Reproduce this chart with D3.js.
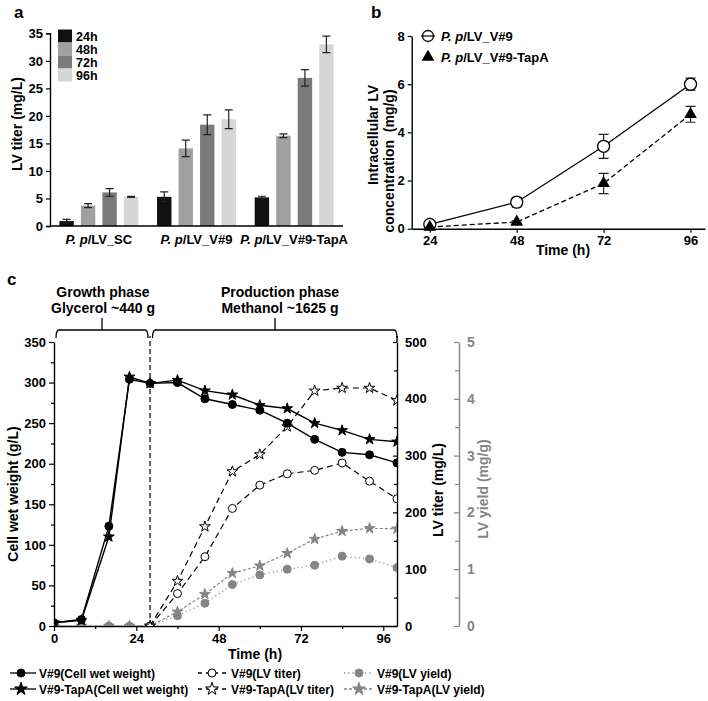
<!DOCTYPE html>
<html><head><meta charset="utf-8">
<script src="https://cdn.jsdelivr.net/npm/d3@7"></script>
<style>
body{margin:0;background:#fff;}
svg text{font-family:"Liberation Sans",Arial,Helvetica,sans-serif;font-weight:bold;}
</style></head>
<body>
<svg id="chart" width="708" height="701"></svg>
<script>
// ---------- Panel a data ----------
const groupsA = ["SC", "V#9", "V#9-TapA"];
const groupLabelsA = ["/LV_SC", "/LV_V#9", "/LV_V#9-TapA"];
const timesA = ["24h", "48h", "72h", "96h"];
const titerSC = [0.9, 3.7, 6.1, 5.3];
const errSC = [0.3, 0.35, 0.7, 0.1];
const titerV9 = [5.3, 14.1, 18.4, 19.4];
const errV9 = [0.9, 1.5, 1.8, 1.7];
const titerTapA = [5.2, 16.4, 26.9, 33.0];
const errTapA = [0.2, 0.35, 1.5, 1.5];
const colorsA = ["#111111", "#a0a0a0", "#7a7a7a", "#d6d6d6"];
const yTicksA = [0, 5, 10, 15, 20, 25, 30, 35];

// ---------- Panel b data ----------
const timeB = [24, 48, 72, 96];
const intraV9 = [0.18, 1.1, 3.42, 6.0];
const errIntraV9 = [0.1, 0.2, 0.5, 0.25];
const intraTapA = [0.07, 0.28, 1.88, 4.75];
const errIntraTapA = [0.04, 0.05, 0.42, 0.33];
const yTicksB = [0, 2, 4, 6, 8];

// ---------- Panel c data ----------
const timeCWW = [0, 8, 16, 22, 28, 36, 44, 52, 60, 68, 76, 84, 92, 100];
const cwwV9 = [4, 8, 123, 304, 299, 300, 280, 273, 266, 250, 230, 214, 211, 201];
const cwwTapA = [4, 7, 110, 307, 299, 303, 290, 285, 272, 268, 250, 241, 230, 227];
const timeTiter = [28, 36, 44, 52, 60, 68, 76, 84, 92, 100];
const titerV9c = [0, 57, 122, 207, 248, 268, 274, 287, 255, 224];
const titerTapAc = [0, 79, 175, 272, 302, 351, 414, 419, 419, 397];
const timeYield = [0, 8, 16, 22, 28, 36, 44, 52, 60, 68, 76, 84, 92, 100];
const yieldV9 = [0, 0, 0, 0, 0, 0.18, 0.40, 0.73, 0.90, 1.0, 1.07, 1.23, 1.18, 1.03];
const yieldTapA = [0, 0, 0, 0, 0, 0.25, 0.56, 0.93, 1.06, 1.28, 1.53, 1.67, 1.72, 1.71];
const xTicksC = [0, 24, 48, 72, 96];
const legendC = [
  ["V#9(Cell wet weight)", "V#9(LV titer)", "V#9(LV yield)"],
  ["V#9-TapA(Cell wet weight)", "V#9-TapA(LV titer)", "V#9-TapA(LV yield)"]
];

const svg = d3.select("#chart");
const GRAY = "#858585";

function panelLabel(t, x, y) {
  svg.append("text").attr("x", x).attr("y", y).attr("font-size", 17).text(t);
}

// ================= Panel a =================
(function () {
  panelLabel("a", 14, 18);
  const x = d3.scaleBand().domain(groupsA).range([50, 343]);
  const xs = d3.scaleBand().domain(timesA).range([-43, 43]).paddingInner(0.33).paddingOuter(0.165);
  const y = d3.scaleLinear().domain([0, 35]).range([226, 33.3]);
  const g = svg.append("g");
  const series = [titerSC, titerV9, titerTapA];
  const errs = [errSC, errV9, errTapA];
  groupsA.forEach((grp, gi) => {
    timesA.forEach((t, ti) => {
      const cx = x(grp) + x.bandwidth() / 2 + xs(t);
      const v = series[gi][ti], e = errs[gi][ti];
      g.append("rect").attr("x", cx).attr("width", xs.bandwidth())
        .attr("y", y(v)).attr("height", y(0) - y(v)).attr("fill", colorsA[ti]);
      const mx = cx + xs.bandwidth() / 2;
      g.append("path").attr("d",
        `M${mx},${y(v - e)}V${y(v + e)}M${mx - 4},${y(v + e)}H${mx + 4}M${mx - 4},${y(v - e)}H${mx + 4}`)
        .attr("stroke", "#222").attr("stroke-width", 1.2).attr("fill", "none");
    });
  });
  const ya = g.append("g").attr("transform", "translate(50,0)")
    .call(d3.axisLeft(y).tickValues(yTicksA).tickSize(4).tickPadding(3));
  ya.select(".domain").attr("stroke-width", 1.4);
  ya.selectAll(".tick line").attr("stroke-width", 1.2);
  ya.selectAll("text").attr("font-size", 13).attr("font-family", "Liberation Sans, Arial").attr("font-weight", "bold");
  g.append("line").attr("x1", 50).attr("x2", 343).attr("y1", 226).attr("y2", 226).attr("stroke", "#000").attr("stroke-width", 1.4);
  groupsA.forEach((grp, gi) => {
    const tx = g.append("text").attr("x", x(grp) + x.bandwidth() / 2).attr("y", 244)
      .attr("text-anchor", "middle").attr("font-size", 13);
    tx.append("tspan").attr("font-style", "italic").text("P. p");
    tx.append("tspan").text(groupLabelsA[gi]);
  });
  g.append("text").attr("transform", "translate(22,124) rotate(-90)").attr("text-anchor", "middle")
    .attr("font-size", 14).text("LV titer (mg/L)");
  // legend
  timesA.forEach((t, i) => {
    const cy = 36 + i * 13;
    g.append("rect").attr("x", 58).attr("y", cy - 6.5).attr("width", 14).attr("height", 13).attr("fill", colorsA[i]);
    g.append("text").attr("x", 76).attr("y", cy + 4.5).attr("font-size", 12.5).text(t);
  });
})();

// ================= Panel b =================
(function () {
  panelLabel("b", 371, 18);
  const x = d3.scaleLinear().domain([19, 100]).range([411.7, 705]);
  const y = d3.scaleLinear().domain([0, 8]).range([228.7, 36]);
  const g = svg.append("g");
  const xa = g.append("g").attr("transform", "translate(0,228.7)")
    .call(d3.axisBottom(x).tickValues(timeB).tickSize(4).tickPadding(3).tickSizeOuter(0));
  const ya = g.append("g").attr("transform", "translate(411.7,0)")
    .call(d3.axisLeft(y).tickValues(yTicksB).tickSize(4).tickPadding(3).tickSizeOuter(0));
  [xa, ya].forEach(a => {
    a.select(".domain").attr("stroke-width", 1.4);
    a.selectAll(".tick line").attr("stroke-width", 1.2);
    a.selectAll("text").attr("font-size", 13).attr("font-family", "Liberation Sans, Arial").attr("font-weight", "bold");
  });
  const line = d3.line().x((d, i) => x(timeB[i])).y(d => y(d));
  g.append("path").attr("d", line(intraV9)).attr("fill", "none").attr("stroke", "#000").attr("stroke-width", 1.3);
  g.append("path").attr("d", line(intraTapA)).attr("fill", "none").attr("stroke", "#000").attr("stroke-width", 1.3).attr("stroke-dasharray", "5,3");
  function errbar(vals, errs) {
    vals.forEach((v, i) => {
      const mx = x(timeB[i]), e = errs[i];
      g.append("path").attr("d",
        `M${mx},${y(v - e)}V${y(v + e)}M${mx - 5},${y(v + e)}H${mx + 5}M${mx - 5},${y(v - e)}H${mx + 5}`)
        .attr("stroke", "#222").attr("stroke-width", 1.2).attr("fill", "none");
    });
  }
  errbar(intraV9, errIntraV9);
  errbar(intraTapA, errIntraTapA);
  intraV9.forEach((v, i) => {
    g.append("circle").attr("cx", x(timeB[i])).attr("cy", y(v)).attr("r", 6)
      .attr("fill", "#fff").attr("stroke", "#000").attr("stroke-width", 1.3);
  });
  const tri = d3.symbol().type(d3.symbolTriangle).size(70);
  intraTapA.forEach((v, i) => {
    g.append("path").attr("d", tri()).attr("transform", `translate(${x(timeB[i])},${y(v)})`).attr("fill", "#000");
  });
  g.append("text").attr("x", 563).attr("y", 255).attr("text-anchor", "middle").attr("font-size", 14).text("Time (h)");
  g.append("text").attr("transform", "translate(378,135) rotate(-90)").attr("text-anchor", "middle")
    .attr("font-size", 14).text("Intracellular LV");
  g.append("text").attr("transform", "translate(394,161) rotate(-90)").attr("text-anchor", "middle")
    .attr("font-size", 14).attr("xml:space", "preserve").text("concentration  (mg/g)");
  // legend
  g.append("line").attr("x1", 421).attr("x2", 435).attr("y1", 36).attr("y2", 36).attr("stroke", "#000").attr("stroke-width", 1.2);
  g.append("circle").attr("cx", 428).attr("cy", 36).attr("r", 5.5).attr("fill", "none").attr("stroke", "#000").attr("stroke-width", 1.3);
  g.append("path").attr("d", tri()).attr("transform", "translate(428,57)").attr("fill", "#000");
  [["/LV_V#9", 36], ["/LV_V#9-TapA", 57]].forEach(([t, cy]) => {
    const tx = g.append("text").attr("x", 441).attr("y", cy + 4.5).attr("font-size", 13);
    tx.append("tspan").attr("font-style", "italic").text("P. p");
    tx.append("tspan").text(t);
  });
})();

// ================= Panel c =================
(function () {
  panelLabel("c", 7, 285);
  const x = d3.scaleLinear().domain([0, 100]).range([54, 397]);
  const yL = d3.scaleLinear().domain([0, 350]).range([626, 342]);
  const yT = d3.scaleLinear().domain([0, 500]).range([626, 342]);
  const yY = d3.scaleLinear().domain([0, 5]).range([626, 342]);
  const g = svg.append("g");
  svg.append("defs").append("clipPath").attr("id", "clipC").append("rect")
    .attr("x", 54).attr("y", 300).attr("width", 343).attr("height", 326);

  function styleAxis(a, color) {
    a.select(".domain").attr("stroke-width", 1.4).attr("stroke", color);
    a.selectAll(".tick line").attr("stroke-width", 1.2).attr("stroke", color);
    a.selectAll("text").attr("font-size", 13).attr("font-family", "Liberation Sans, Arial")
      .attr("font-weight", "bold").attr("fill", color);
  }
  const xa = g.append("g").attr("transform", "translate(0,626)")
    .call(d3.axisBottom(x).tickValues(xTicksC).tickSize(5).tickPadding(3).tickSizeOuter(0));
  styleAxis(xa, "#000");
  g.append("g").attr("transform", "translate(0,626)")
    .call(d3.axisBottom(x).tickValues([12, 36, 60, 84]).tickSize(3).tickFormat("").tickSizeOuter(0))
    .call(a => { a.select(".domain").remove(); a.selectAll("line").attr("stroke-width", 1.2); });

  const ya = g.append("g").attr("transform", "translate(54,0)")
    .call(d3.axisLeft(yL).tickValues(d3.range(0, 351, 50)).tickSize(5).tickPadding(3).tickSizeOuter(0));
  styleAxis(ya, "#000");
  g.append("g").attr("transform", "translate(54,0)")
    .call(d3.axisLeft(yL).tickValues(d3.range(25, 350, 50)).tickSize(3).tickFormat("").tickSizeOuter(0))
    .call(a => { a.select(".domain").remove(); a.selectAll("line").attr("stroke-width", 1.2); });

  const yta = g.append("g").attr("transform", "translate(397,0)")
    .call(d3.axisRight(yT).tickValues(d3.range(0, 501, 100)).tickSize(-4).tickPadding(8).tickSizeOuter(0));
  styleAxis(yta, "#000");
  g.append("g").attr("transform", "translate(397,0)")
    .call(d3.axisRight(yT).tickValues(d3.range(50, 500, 100)).tickSize(-3).tickFormat("").tickSizeOuter(0))
    .call(a => { a.select(".domain").remove(); a.selectAll("line").attr("stroke-width", 1.2); });

  const yya = g.append("g").attr("transform", "translate(459,0)")
    .call(d3.axisRight(yY).tickValues([0, 1, 2, 3, 4, 5]).tickFormat(d3.format("d")).tickSize(-5).tickPadding(8).tickSizeOuter(0));
  styleAxis(yya, GRAY);
  yya.selectAll("text").attr("font-weight", "normal").attr("font-size", 14);
  g.append("g").attr("transform", "translate(459,0)")
    .call(d3.axisRight(yY).tickValues([0.5, 1.5, 2.5, 3.5, 4.5]).tickSize(-4).tickFormat("").tickSizeOuter(0))
    .call(a => { a.select(".domain").remove(); a.selectAll("line").attr("stroke-width", 1.2).attr("stroke", GRAY); });

  // axis titles
  g.append("text").attr("x", 255).attr("y", 659).attr("text-anchor", "middle").attr("font-size", 14).text("Time (h)");
  g.append("text").attr("transform", "translate(18,494) rotate(-90)").attr("text-anchor", "middle")
    .attr("font-size", 14).text("Cell wet weight (g/L)");
  g.append("text").attr("transform", "translate(443,490) rotate(-90)").attr("text-anchor", "middle")
    .attr("font-size", 14).text("LV titer (mg/L)");
  g.append("text").attr("transform", "translate(488,489) rotate(-90)").attr("text-anchor", "middle")
    .attr("font-size", 14).attr("fill", GRAY).text("LV yield (mg/g)");

  // phase divider & brackets
  g.append("line").attr("x1", x(28)).attr("x2", x(28)).attr("y1", 626).attr("y2", 336)
    .attr("stroke", "#000").attr("stroke-width", 1.2).attr("stroke-dasharray", "5,3");
  function bracket(x1, x2, xc) {
    g.append("path").attr("d",
      `M${x1},338Q${x1},330 ${x1 + 3},330H${x2 - 3}Q${x2},330 ${x2},338M${xc},330V318`)
      .attr("fill", "none").attr("stroke", "#000").attr("stroke-width", 1.3);
  }
  bracket(56, 148, 102);
  bracket(152.5, 397, 275);
  g.append("line").attr("x1", 397).attr("x2", 397).attr("y1", 336).attr("y2", 342).attr("stroke", "#000").attr("stroke-width", 1.4);
  [["Growth phase", 103, 297], ["Glycerol ~440 g", 103, 313], ["Production phase", 280, 297], ["Methanol ~1625 g", 280, 313]]
    .forEach(([t, tx, ty]) => g.append("text").attr("x", tx).attr("y", ty).attr("text-anchor", "middle").attr("font-size", 14).text(t));

  const star = d3.symbol().type(d3.symbolStar).size(36);
  const plot = g.append("g").attr("clip-path", "url(#clipC)");

  function series(times, vals, ys, opt) {
    const line = d3.line().x((d, i) => x(times[i])).y(d => ys(d));
    plot.append("path").attr("d", line(vals)).attr("fill", "none").attr("stroke", opt.stroke)
      .attr("stroke-width", opt.sw || 1.2).attr("stroke-dasharray", opt.dash || null);
    vals.forEach((v, i) => {
      if (opt.marker === "circle") {
        plot.append("circle").attr("cx", x(times[i])).attr("cy", ys(v)).attr("r", 4)
          .attr("fill", opt.fill).attr("stroke", opt.mstroke).attr("stroke-width", 1);
      } else {
        plot.append("path").attr("d", star()).attr("transform", `translate(${x(times[i])},${ys(v)})`)
          .attr("fill", opt.fill).attr("stroke", opt.mstroke).attr("stroke-width", 1);
      }
    });
  }
  series(timeYield, yieldV9, yY, { stroke: GRAY, dash: "1.2,3", marker: "circle", fill: GRAY, mstroke: GRAY });
  series(timeYield, yieldTapA, yY, { stroke: GRAY, dash: "3,2", marker: "star", fill: GRAY, mstroke: GRAY });
  series(timeTiter, titerV9c, yT, { stroke: "#000", dash: "6,4", marker: "circle", fill: "#fff", mstroke: "#000" });
  series(timeTiter, titerTapAc, yT, { stroke: "#000", dash: "6,4", marker: "star", fill: "#fff", mstroke: "#000" });
  series(timeCWW, cwwV9, yL, { stroke: "#000", sw: 1.4, marker: "circle", fill: "#000", mstroke: "#000" });
  series(timeCWW, cwwTapA, yL, { stroke: "#000", sw: 1.4, marker: "star", fill: "#000", mstroke: "#000" });

  // legend
  const cols = [
    { x1: 10, x2: 36, mx: 21, tx: 39, dash: null, stroke: "#000", fills: ["#000", "#000"], ms: "#000" },
    { x1: 198, x2: 227, mx: 212, tx: 231, dash: "4,4", stroke: "#000", fills: ["#fff", "#fff"], ms: "#000" },
    { x1: 344, x2: 372, mx: 359, tx: 377, dash: ["1.2,3", "3,2"], stroke: GRAY, fills: [GRAY, GRAY], ms: GRAY }
  ];
  [673, 689].forEach((ly, r) => {
    cols.forEach((c, ci) => {
      const dash = Array.isArray(c.dash) ? c.dash[r] : c.dash;
      g.append("line").attr("x1", c.x1).attr("x2", c.x2).attr("y1", ly).attr("y2", ly)
        .attr("stroke", c.stroke).attr("stroke-width", 1.3).attr("stroke-dasharray", dash);
      if (r === 0) {
        g.append("circle").attr("cx", c.mx).attr("cy", ly).attr("r", 4).attr("fill", c.fills[r]).attr("stroke", c.ms);
      } else {
        g.append("path").attr("d", d3.symbol().type(d3.symbolStar).size(50)())
          .attr("transform", `translate(${c.mx},${ly})`).attr("fill", c.fills[r]).attr("stroke", c.ms);
      }
      g.append("text").attr("x", c.tx).attr("y", ly + 4.5).attr("font-size", 12).text(legendC[r][ci]);
    });
  });
})();
</script>
</body></html>
